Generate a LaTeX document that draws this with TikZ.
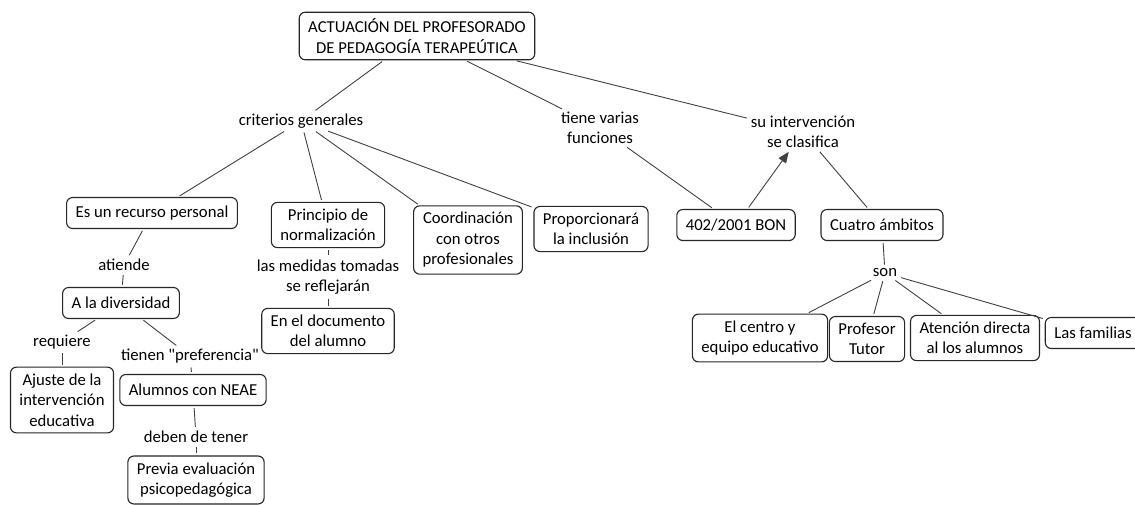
\documentclass[tikz,border=0pt]{standalone}
\usepackage{fontspec}
\setmainfont{Carlito}
\usetikzlibrary{positioning, arrows.meta}
\tikzset{
    >={Triangle[length=11pt, width=9pt]}, % filled arrow head
    every edge/.style={draw, line width=0.9pt, black!75, shorten <=2pt, shorten >=2pt}, % look of the connectors
    concept/.style={draw=black!85, line width=1.1pt, rounded corners=6pt, fill=white, align=center,
        inner xsep=9pt, inner ysep=6.5pt, minimum height=31pt}, % boxed concepts
    phrase/.style={align=center, inner sep=2pt}, % linking words
}

\begin{document}
\begin{tikzpicture}[
        x=1pt, y=-1pt,
        on grid,
        every node/.style={font=\fontsize{16.7pt}{20.5pt}\selectfont, text=black},
    ]
    \useasboundingbox (0,0) rectangle (1135,504);

    \node[concept] (actuacion) at (417,36) {ACTUACIÓN DEL PROFESORADO\\DE PEDAGOGÍA TERAPEÚTICA};
    \node[phrase, below left=85pt and 116pt of actuacion] (criterios) {criterios generales};
    \node[phrase, below right=92pt and 183pt of actuacion] (funciones) {tiene varias\\funciones};
    \node[phrase, below right=96pt and 386pt of actuacion] (clasifica) {su intervención\\se clasifica};

    \node[concept, below left=92pt and 149pt of criterios] (recurso) {Es un recurso personal};
    \node[concept, below right=104pt and 27pt of criterios] (principio) {Principio de\\normalización};
    \node[concept, below right=119pt and 167pt of criterios] (coordinacion) {Coordinación\\con otros\\profesionales};
    \node[concept, below right=108pt and 290pt of criterios] (inclusion) {Proporcionará\\la inclusión};
    \node[concept, below right=97pt and 136pt of funciones] (bon) {402/2001 BON};
    \node[concept, below right=93pt and 79pt of clasifica] (ambitos) {Cuatro ámbitos};

    \node[phrase, below left=52pt and 28pt of recurso] (atiende) {atiende};
    \node[concept, below left=38pt and 3pt of atiende] (diversidad) {A la diversidad};
    \node[phrase, below left=39pt and 59pt of diversidad] (requiere) {requiere};
    \node[phrase, below right=53pt and 69pt of diversidad] (preferencia) {tienen \textquotedbl preferencia\textquotedbl};
    \node[concept, below=58pt of requiere] (ajuste) {Ajuste de la\\intervención\\educativa};
    \node[concept, below right=34pt and 3pt of preferencia] (neae) {Alumnos con NEAE};
    \node[phrase, below right=47pt and 3pt of neae] (tener) {deben de tener};
    \node[concept, below=43pt of tener] (previa) {Previa evaluación\\psicopedagógica};

    \node[phrase, below=52pt of principio] (medidas) {las medidas tomadas\\se reflejarán};
    \node[concept, below=54pt of medidas] (documento) {En el documento\\del alumno};

    \node[phrase, below right=48pt and 3pt of ambitos] (son) {son};
    \node[concept, below left=65pt and 125pt of son] (centro) {El centro y\\equipo educativo};
    \node[concept, below left=66pt and 18pt of son] (tutor) {Profesor\\Tutor};
    \node[concept, below right=65pt and 90pt of son] (atencion) {Atención directa\\al los alumnos};
    \node[concept, below right=60pt and 208pt of son] (familias) {Las familias};

    \draw
    (actuacion) edge (criterios)
    (actuacion) edge (funciones)
    (actuacion) edge (clasifica)
    (criterios) edge (recurso)
    (criterios) edge (principio)
    (criterios) edge (coordinacion)
    (criterios) edge (inclusion)
    (funciones) edge (bon)
    (bon) edge[->] (clasifica)
    (clasifica) edge (ambitos)

    (recurso) edge (atiende)
    (atiende) edge (diversidad)
    (diversidad) edge (requiere)
    (diversidad) edge (preferencia)
    (requiere) edge (ajuste)
    (preferencia) edge (neae)
    (neae) edge (tener)
    (tener) edge (previa)

    (principio) edge (medidas)
    (medidas) edge (documento)

    (ambitos) edge (son)
    (son) edge (centro)
    (son) edge (tutor)
    (son) edge (atencion)
    (son) edge (familias);
\end{tikzpicture}
\end{document}
